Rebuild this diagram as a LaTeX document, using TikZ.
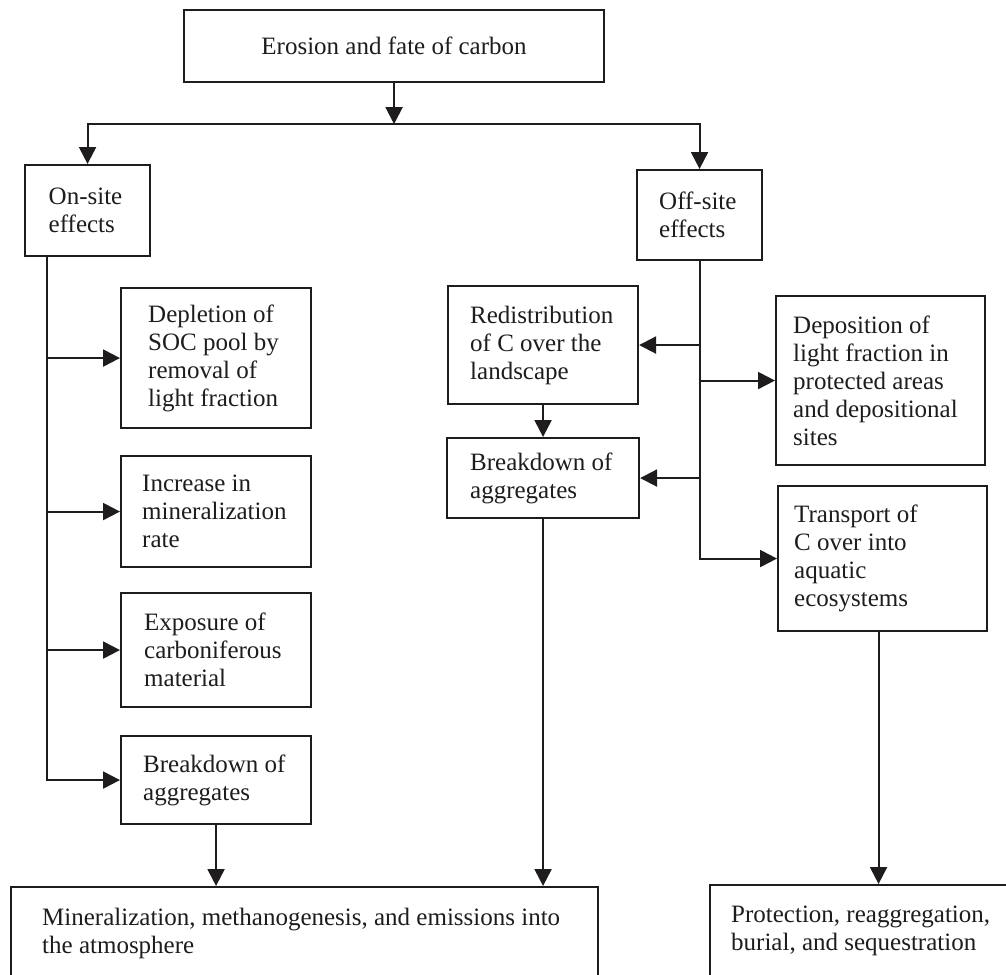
\documentclass[tikz,border=0pt]{standalone}
\usepackage{fontspec}
\setmainfont{Liberation Serif}
\usetikzlibrary{arrows.meta,calc}
\definecolor{ink}{RGB}{30,28,28}
\begin{document}
\begin{tikzpicture}[x=1pt,y=-1pt,
  box/.style={draw=ink, line width=2.1pt, anchor=north west, inner sep=0pt},
  txt/.style={anchor=west, align=left, inner sep=0pt, text=ink, font=\fontsize{25}{28}\selectfont},
  conn/.style={draw=ink, line width=2.1pt},
  arr/.style={conn, -{Triangle[length=17pt,width=17pt]}}]
\useasboundingbox (0,0) rectangle (1006,974);

% boxes
\node[box, minimum width=420pt, minimum height=72pt, text=ink, font=\fontsize{25}{28}\selectfont] (top) at (183,9) {Erosion and fate of carbon};
\node[box, minimum width=125pt, minimum height=91pt] (onsite) at (24,164) {};
\node[box, minimum width=125pt, minimum height=90pt] (offsite) at (636,169) {};
\node[box, minimum width=190pt, minimum height=140pt] (depl) at (120,287) {};
\node[box, minimum width=190pt, minimum height=111pt] (incr) at (120,455) {};
\node[box, minimum width=190pt, minimum height=114pt] (expo) at (120,592) {};
\node[box, minimum width=190pt, minimum height=88pt] (brkL) at (120,735) {};
\node[box, minimum width=190pt, minimum height=118pt] (redis) at (447,285) {};
\node[box, minimum width=192pt, minimum height=80pt] (brkM) at (446,437) {};
\node[box, minimum width=209pt, minimum height=169pt] (depo) at (775,295) {};
\node[box, minimum width=209pt, minimum height=145pt] (trans) at (777,485) {};
\node[box, minimum width=587pt, minimum height=110pt] (botL) at (10,886) {};
\node[box, minimum width=320pt, minimum height=110pt] (botR) at (709,884) {};

% texts
\node[txt] (onsiteT) at ($(onsite.west)+(24.5,0)$) {On-site\\effects};
\node[txt] (offsiteT) at ($(offsite.west)+(23,0)$) {Off-site\\effects};
\node[txt] (deplT) at ($(depl.west)+(28,0)$) {Depletion of\\SOC pool by\\removal of\\light fraction};
\node[txt] (incrT) at ($(incr.west)+(22,0)$) {Increase in\\mineralization\\rate};
\node[txt] (expoT) at ($(expo.west)+(24,0)$) {Exposure of\\carboniferous\\material};
\node[txt] (brkLT) at ($(brkL.west)+(23,0)$) {Breakdown of\\aggregates};
\node[txt] (redisT) at ($(redis.west)+(23,0)$) {Redistribution\\of C over the\\landscape};
\node[txt] (brkMT) at ($(brkM.west)+(24,0)$) {Breakdown of\\aggregates};
\node[txt] (depoT) at ($(depo.west)+(18,0)$) {Deposition of\\light fraction in\\protected areas\\and depositional\\sites};
\node[txt] (transT) at ($(trans.west)+(17,0)$) {Transport of\\C over into\\aquatic\\ecosystems};
\node[txt] (botLT) at ($(botL.north west)+(32,47)$) {Mineralization, methanogenesis, and emissions into\\the atmosphere};
\node[txt] (botRT) at ($(botR.north west)+(22,47)$) {Protection, reaggregation,\\burial, and sequestration};

% top split
\coordinate (hj) at ($(top.south)+(0,41)$);
\draw[arr] (top.south) -- (hj);
\draw[arr] (hj) -| (onsite.north);
\draw[arr] (hj) -| (offsite.north);

% left trunk
\coordinate (tl) at ($(onsite.south west)+(23,0)$);
\draw[arr] (tl) |- (brkL.west);
\draw[arr] (tl |- depl.west) -- (depl.west);
\draw[arr] (tl |- incr.west) -- (incr.west);
\draw[arr] (tl |- expo.west) -- (expo.west);

% right trunk
\draw[arr] (offsite.south) |- (trans.west);
\draw[arr] (offsite.south |- redis.east) -- (redis.east);
\draw[arr] (offsite.south |- brkM.east) -- (brkM.east);
\draw[arr] (offsite.south |- depo.west) -- (depo.west);

% verticals
\draw[arr] (redis.south) -- (brkM.north);
\draw[arr] (brkL.south) -- (brkL.south |- botL.north);
\draw[arr] (brkM.south) -- (brkM.south |- botL.north);
\coordinate (tb) at ([xshift=-4pt]trans.south);
\draw[arr] (tb) -- (tb |- botR.north);
\end{tikzpicture}
\end{document}
